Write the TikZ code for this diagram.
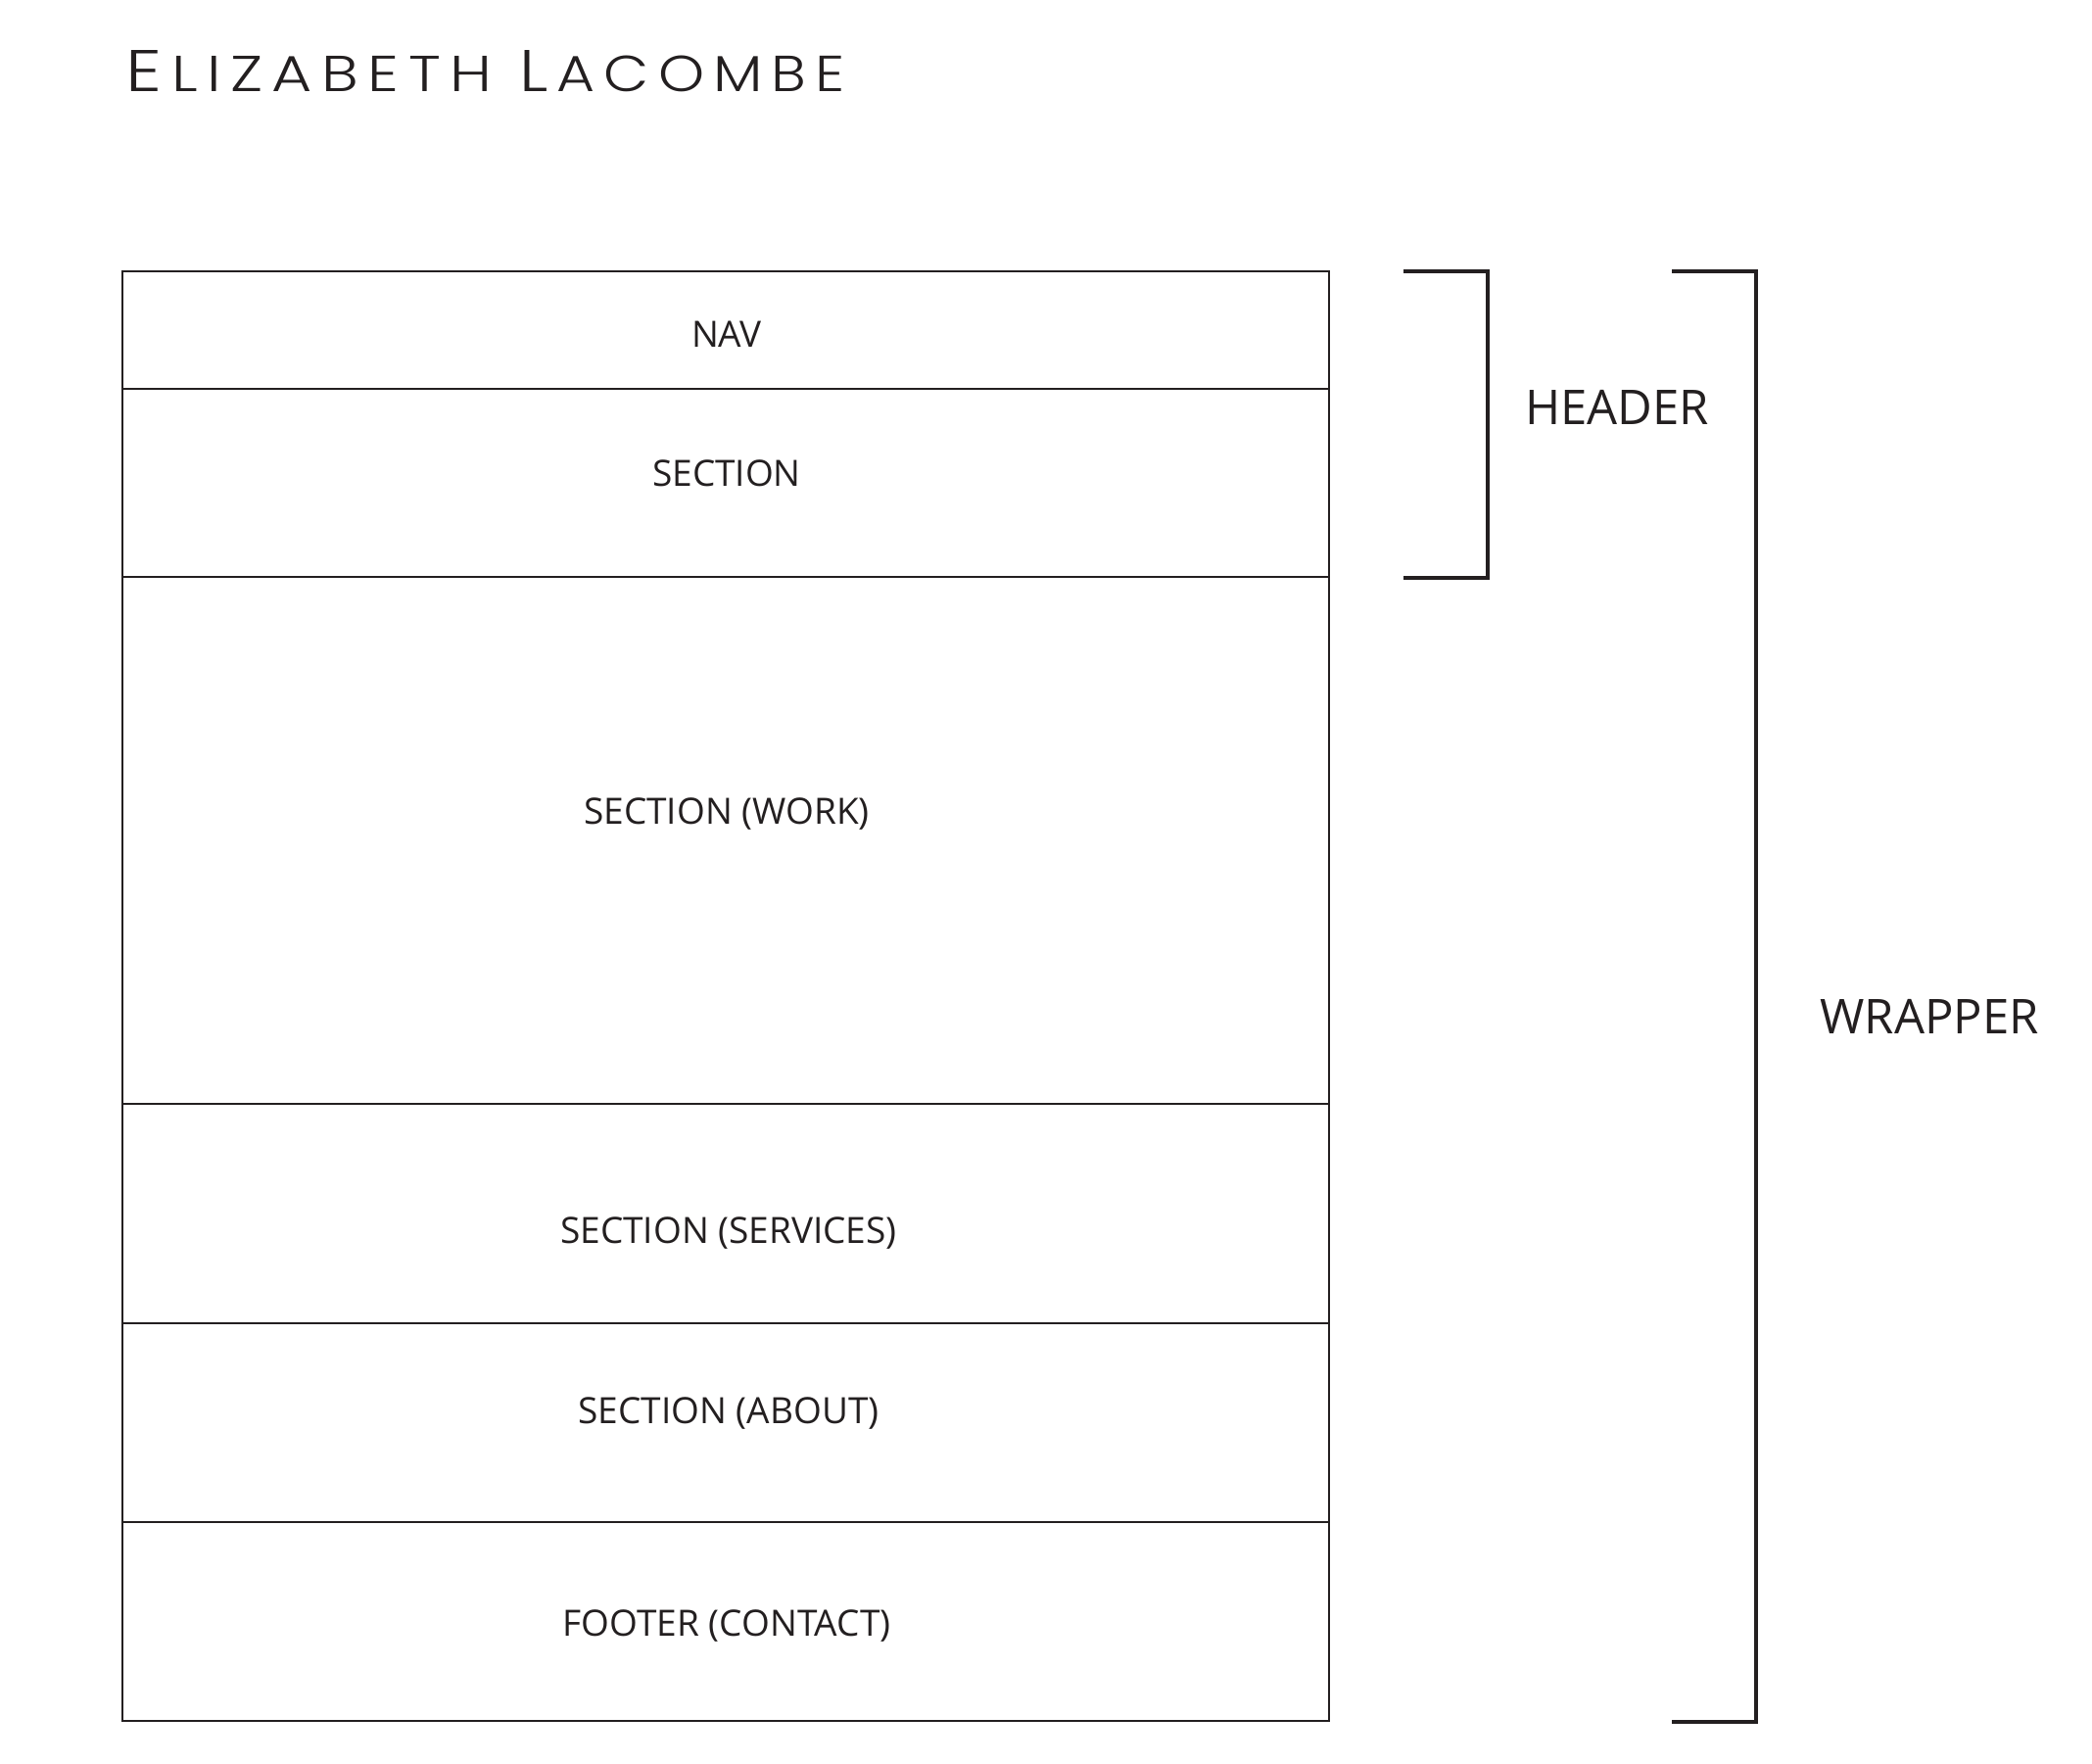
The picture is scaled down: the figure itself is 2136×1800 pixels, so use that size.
\documentclass[tikz,border=0pt]{standalone}
\usepackage{fontspec}
\usepackage{graphicx}
\setmainfont{Open Sans}
\IfFontExistsTF{Poppins Light}{\newfontfamily\titlefont{Poppins Light}[LetterSpace=15]}{\newfontfamily\titlefont{Poppins}[LetterSpace=15]}
\definecolor{ink}{RGB}{35,31,32}
\newcommand{\ttlbig}[1]{{\fontsize{30pt}{34pt}\selectfont #1}\hspace{4pt}}
\newcommand{\ttlsmall}[1]{{\fontsize{25.8pt}{30pt}\selectfont #1}}
\tikzset{
  boxline/.style={draw=ink, line width=1.25pt},
  bracketline/.style={draw=ink, line width=2pt},
  lbl/.style={anchor=base, inner sep=0pt, text=ink, font=\fontsize{18.5pt}{22pt}\selectfont},
  biglbl/.style={anchor=base, inner sep=0pt, text=ink, font=\fontsize{24.5pt}{28pt}\selectfont},
}
\begin{document}
\begin{tikzpicture}[x=0.5pt, y=-0.5pt]
\useasboundingbox (0,0) rectangle (2136,1800);
% title
\node[anchor=base west, inner sep=0pt, text=ink] (title) at (128,93)
  {\titlefont\resizebox{187pt}{21pt}{\ttlbig{E}\ttlsmall{LIZABETH}}\hspace{14pt}\resizebox{166pt}{21pt}{\ttlbig{L}\ttlsmall{ACOMBE}}};
% wrapper box and section dividers
\draw[boxline] (125,277) rectangle (1357,1757);
\coordinate (l1) at (125,397);  \coordinate (r1) at (1357,397);
\coordinate (l2) at (125,589);  \coordinate (r2) at (1357,589);
\coordinate (l3) at (125,1127); \coordinate (r3) at (1357,1127);
\coordinate (l4) at (125,1351); \coordinate (r4) at (1357,1351);
\coordinate (l5) at (125,1554); \coordinate (r5) at (1357,1554);
\draw[boxline] (l1) -- (r1) (l2) -- (r2) (l3) -- (r3) (l4) -- (r4) (l5) -- (r5);
% labels
\node[lbl] (nav) at (742,354) {NAV};
\node[lbl] (sec) at (742,496) {SECTION};
\node[lbl] (work) at (742,841) {SECTION (WORK)};
\node[lbl] (serv) at (744,1269) {SECTION (SERVICES)};
\node[lbl] (about) at (744,1453) {SECTION (ABOUT)};
\node[lbl] (foot) at (742,1670) {FOOTER (CONTACT)};
% brackets
\coordinate (h1) at (1433,277); \coordinate (h2) at (1433,590);
\draw[bracketline] (h1) -| (1519,590) -- (h2);
\node[biglbl] (header) at (1651,433) {HEADER};
\coordinate (w1) at (1707,277); \coordinate (w2) at (1707,1758);
\draw[bracketline] (w1) -| (1793,1758) -- (w2);
\node[biglbl] (wrapper) at (1970,1055) {WRAPPER};
\end{tikzpicture}
\end{document}
